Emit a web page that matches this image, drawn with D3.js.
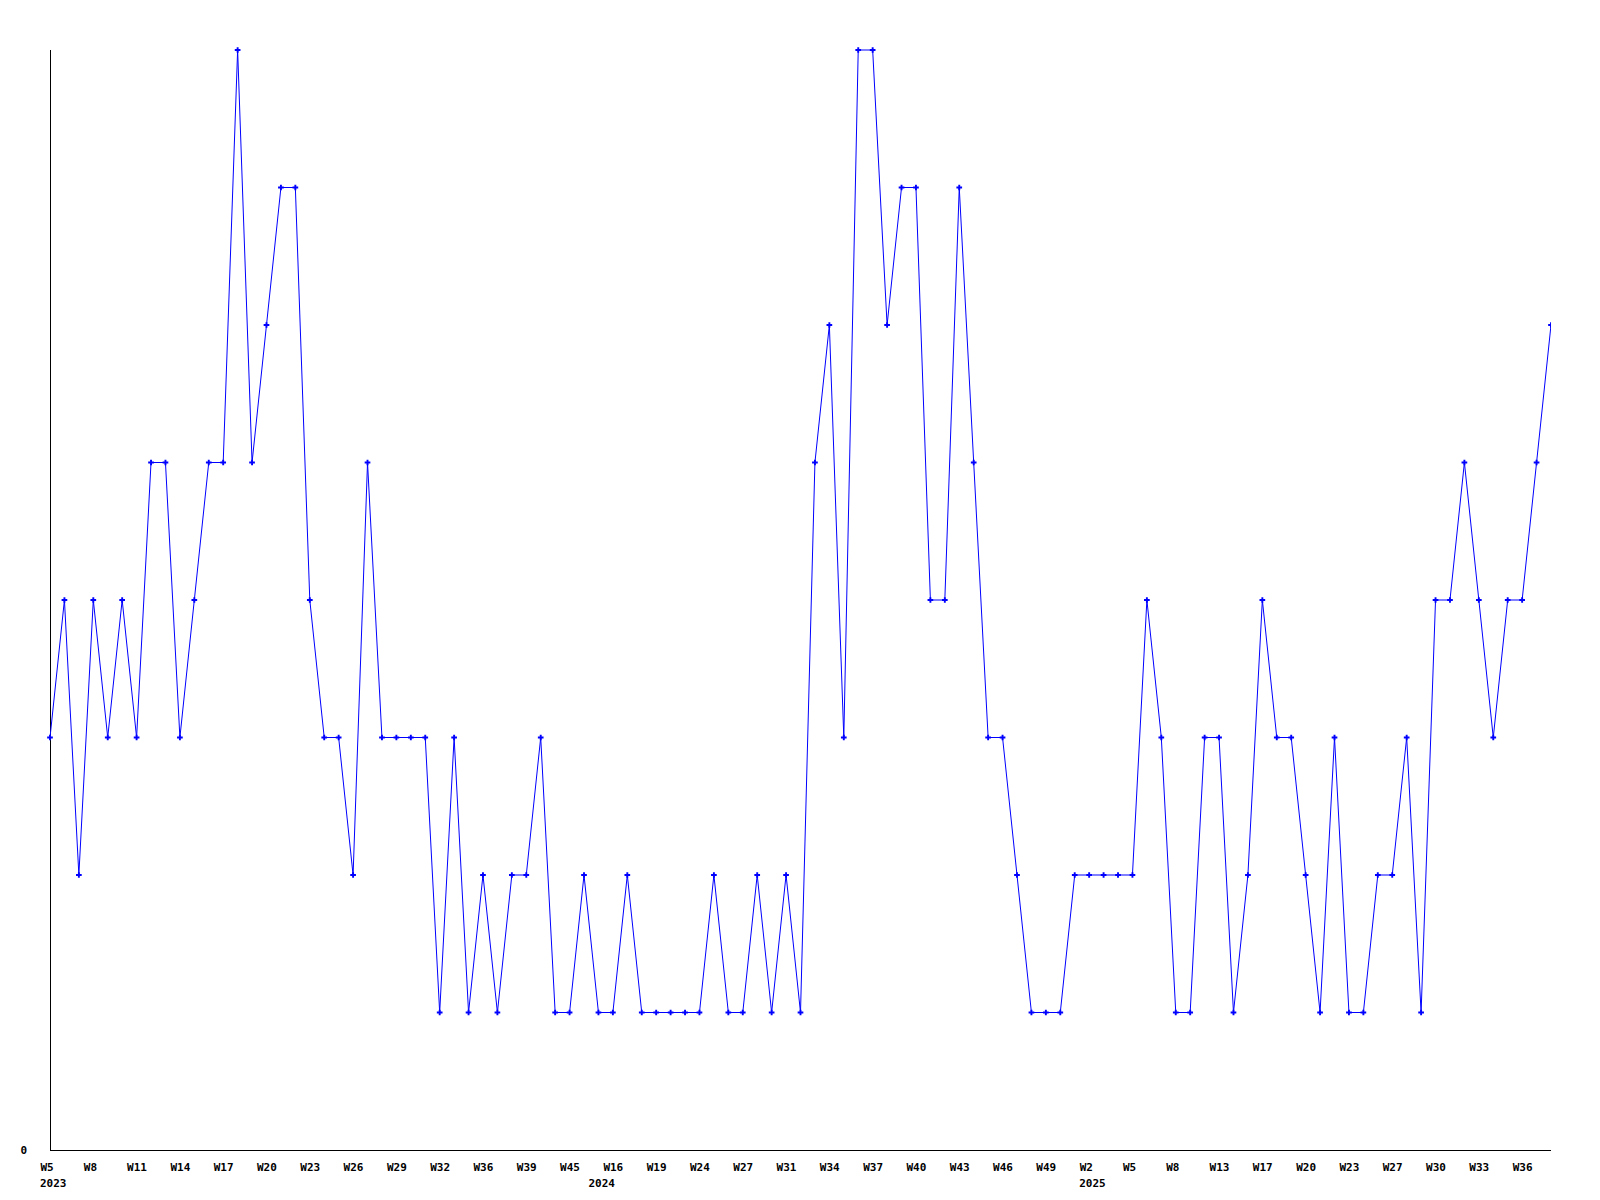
<!DOCTYPE html>
<html>
<head>
<meta charset="utf-8">
<script src="https://cdn.jsdelivr.net/npm/d3@7"></script>
<style>
  body { margin: 0; background: #fff; }
  text { font-family: "DejaVu Sans Mono", monospace; font-size: 11px; font-weight: bold; fill: #000; }
</style>
</head>
<body>
<div id="viz"></div>
<script>
var width  = 1600;
var height = 1200;
var plotLeft = 50, plotRight = 1551, plotTop = 50, plotBottom = 1150;

// one entry per weekly point
var years = [
  2023,2023,2023,2023,2023,2023,2023,2023,2023,2023,2023,2023,2023,2023,2023,2023,2023,2023,2023,2023,
  2023,2023,2023,2023,2023,2023,2023,2023,2023,2023,2023,2023,2023,2023,2023,2023,2023,2023,
  2024,2024,2024,2024,2024,2024,2024,2024,2024,2024,2024,2024,2024,2024,2024,2024,2024,2024,2024,2024,2024,
  2024,2024,2024,2024,2024,2024,2024,2024,2024,2024,2024,2024,2024,
  2025,2025,2025,2025,2025,2025,2025,2025,2025,2025,2025,2025,2025,2025,2025,2025,2025,2025,2025,2025,
  2025,2025,2025,2025,2025,2025,2025,2025,2025,2025,2025,2025,2025
];
var weeks = [
  5,6,7,8,9,10,11,12,13,14,15,16,17,18,19,20,21,22,23,24,
  25,26,27,28,29,30,31,32,34,35,36,37,38,39,41,43,45,48,
  15,16,17,18,19,21,22,24,25,26,27,28,30,31,32,33,34,35,36,37,38,
  39,40,41,42,43,44,45,46,47,48,49,50,52,
  2,3,4,5,6,7,8,10,12,13,14,16,17,18,19,20,21,22,23,24,
  26,27,28,29,30,31,32,33,34,35,36,37,38
];
var values = [
  3,4,2,4,3,4,3,5,5,3,4,5,5,8,5,6,7,7,4,3,
  3,2,5,3,3,3,3,1,3,1,2,1,2,2,3,1,1,2,1,
  1,2,1,1,1,1,1,2,1,1,2,1,2,1,5,6,3,8,8,6,
  7,7,4,4,7,5,3,3,2,1,1,1,2,
  2,2,2,2,4,3,1,1,3,3,1,2,4,3,3,2,1,3,1,1,
  2,2,3,1,4,4,5,4,3,4,4,5,6
];
var yTicks = [0];
var labelEvery = 3;

var data = values.map(function(v, i){
  return { i: i, week: "W" + weeks[i], year: years[i], value: v };
});

var x = d3.scalePoint()
  .domain(data.map(function(d){ return d.i; }))
  .range([plotLeft, plotRight]);
var y = d3.scaleLinear().domain([0, 8]).range([plotBottom, plotTop]);

var svg = d3.select("#viz").append("svg")
  .attr("width", width)
  .attr("height", height);

svg.append("defs").append("clipPath").attr("id", "plot")
  .append("rect")
  .attr("x", 0).attr("y", 0)
  .attr("width", plotRight).attr("height", height);

var tickIdx = data.filter(function(d){ return d.i % labelEvery === 0; }).map(function(d){ return d.i; });

var xAxis = svg.append("g")
  .attr("transform", "translate(0," + (plotBottom + 0.5) + ")")
  .call(d3.axisBottom(x).tickValues(tickIdx).tickSize(0).tickFormat(function(i){ return data[i].week; }));
xAxis.select(".domain").attr("d", "M" + plotLeft + ",0H" + plotRight).attr("stroke", "#000");
xAxis.selectAll(".tick text")
  .attr("text-anchor", "start")
  .attr("x", -10)
  .attr("y", 20)
  .attr("dy", null)
  .attr("fill", "#000");

// year under the first week of each year
var firstOfYear = data.filter(function(d, i){ return i === 0 || data[i - 1].year !== d.year; });
xAxis.selectAll("text.year")
  .data(firstOfYear)
  .enter().append("text")
  .attr("class", "year")
  .attr("text-anchor", "start")
  .attr("x", function(d){ return x(d.i) - 10; })
  .attr("y", 36)
  .attr("fill", "#000")
  .text(function(d){ return d.year; });

var yAxis = svg.append("g")
  .attr("transform", "translate(" + (plotLeft + 0.5) + ",0)")
  .call(d3.axisLeft(y).tickValues(yTicks).tickSize(0).tickFormat(d3.format("d")));
yAxis.select(".domain").attr("d", "M0," + plotTop + "V" + plotBottom).attr("stroke", "#000");
yAxis.selectAll(".tick text")
  .attr("text-anchor", "start")
  .attr("x", 20 - plotLeft)
  .attr("dy", "0.3em")
  .attr("fill", "#000");
svg.selectAll(".tick line").remove();

var line = d3.line()
  .x(function(d){ return x(d.i); })
  .y(function(d){ return y(d.value); });

var plot = svg.append("g").attr("clip-path", "url(#plot)");

plot.append("path")
  .datum(data)
  .attr("d", line)
  .attr("fill", "none")
  .attr("stroke", "#0000ff")
  .attr("stroke-width", 1);

plot.selectAll("path.dot")
  .data(data)
  .enter().append("path")
  .attr("class", "dot")
  .attr("d", d3.symbol().type(d3.symbolCross).size(18))
  .attr("transform", function(d){ return "translate(" + x(d.i) + "," + y(d.value) + ")"; })
  .attr("fill", "#0000ff");
</script>
</body>
</html>
